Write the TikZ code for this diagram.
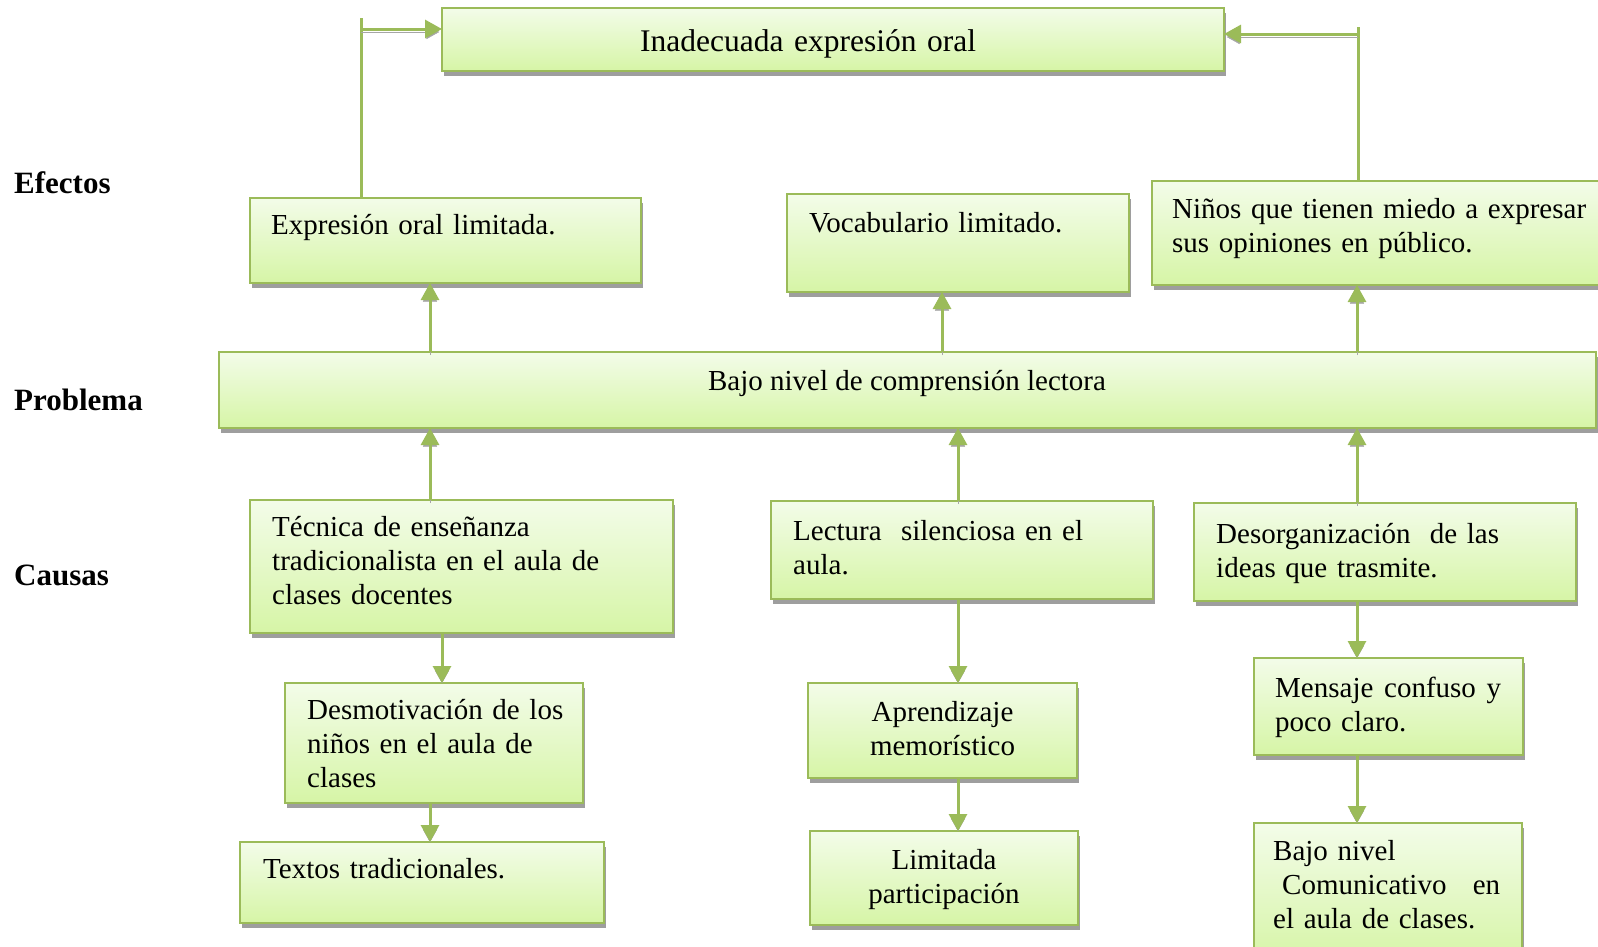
\documentclass[tikz,border=0pt]{standalone}
\usepackage{fontspec}
\setmainfont{Liberation Serif}
\usetikzlibrary{arrows.meta,shadows}
\definecolor{verdeborde}{HTML}{9BBB59}
\definecolor{verdearriba}{HTML}{F3FCE9}
\definecolor{verdeabajo}{HTML}{D6F5A6}
\tikzset{
  caja/.style={draw=verdeborde, line width=2.5pt, top color=verdearriba, bottom color=verdeabajo,
    anchor=north west, outer sep=0pt, inner sep=0pt,
    general shadow={fill=black!38, shadow xshift=2pt, shadow yshift=-5pt}},
  texto/.style={font=\fontsize{29}{34}\selectfont, anchor=base west, inner sep=0pt, align=left, text width=460pt},
  etiqueta/.style={font=\fontsize{31}{36}\selectfont\bfseries, anchor=base west, inner sep=0pt},
  flecha/.style={draw=verdeborde, line width=3pt, -{Triangle[width=18pt,length=17pt]},
    preaction={draw=black!35, transform canvas={yshift=-3pt}}},
  linea/.style={draw=verdeborde, line width=3pt},
}
\begin{document}
\begin{tikzpicture}[x=1pt,y=-1pt]
            \useasboundingbox (0,0) rectangle (1598,946);
            % etiquetas de la izquierda
            \node[etiqueta] (efectos) at (14,193) {Efectos};
            \node[etiqueta] (problema) at (14,410) {Problema};
            \node[etiqueta] (causas) at (14,585) {Causas};
            % cajas
            \node[caja, minimum width=782, minimum height=63] (sup) at (442,8) {};
            \node[texto, font=\fontsize{31.5}{36}\selectfont] (supt) at (640,51) {Inadecuada expresión oral};
            \node[caja, minimum width=391, minimum height=85] (e1) at (250,198) {};
            \node[texto] (e1t) at ([shift={(21,36)}]e1.north west) {Expresión oral limitada.};
            \node[caja, minimum width=342, minimum height=98] (e2) at (787,194) {};
            \node[texto] (e2t) at ([shift={(22,38)}]e2.north west) {Vocabulario limitado.};
            \node[caja, minimum width=470, minimum height=104] (e3) at (1152,181) {};
            \node[texto] (e3t) at ([shift={(20,37)}]e3.north west) {Niños que tienen miedo a expresar\\sus opiniones en público.};
            \node[caja, minimum width=1377, minimum height=76] (pb) at (219,352) {};
            \node[texto, anchor=base, text width=] (pbt) at (907,390) {Bajo nivel de comprensión lectora};
            \node[caja, minimum width=423, minimum height=133] (c1) at (250,500) {};
            \node[texto] (c1t) at ([shift={(22,36)}]c1.north west) {Técnica de enseñanza\\tradicionalista en el aula de\\clases docentes};
            \node[caja, minimum width=382, minimum height=98] (c2) at (771,501) {};
            \node[texto] (c2t) at ([shift={(22,39)}]c2.north west) {Lectura\ \ silenciosa en el\\aula.};
            \node[caja, minimum width=382, minimum height=98] (c3) at (1194,503) {};
            \node[texto] (c3t) at ([shift={(22,40)}]c3.north west) {Desorganización\ \ de las\\ideas que trasmite.};
            \node[caja, minimum width=298, minimum height=120] (s1a) at (285,683) {};
            \node[texto] (s1at) at ([shift={(22,36)}]s1a.north west) {Desmotivación de los\\niños en el aula de\\clases};
            \node[caja, minimum width=364, minimum height=81] (s1b) at (240,842) {};
            \node[texto] (s1bt) at ([shift={(23,36)}]s1b.north west) {Textos tradicionales.};
            \node[caja, minimum width=269, minimum height=95] (s2a) at (808,683) {};
            \node[texto, anchor=base, align=center, text width=260pt] (s2at) at ([shift={(0,38)}]s2a.north) {Aprendizaje\\memorístico};
            \node[caja, minimum width=268, minimum height=94] (s2b) at (810,831) {};
            \node[texto, anchor=base, align=center, text width=260pt] (s2bt) at ([shift={(0,38)}]s2b.north) {Limitada\\participación};
            \node[caja, minimum width=269, minimum height=97] (s3a) at (1254,658) {};
            \node[texto, text width=226pt] (s3at) at ([shift={(21,39)}]s3a.north west) {Mensaje\hfill confuso\hfill y\\poco claro.};
            \node[caja, minimum width=268, minimum height=140] (s3b) at (1254,823) {};
            \node[texto, text width=227pt] (s3bt) at ([shift={(19,37)}]s3b.north west) {Bajo nivel\\\hspace*{9pt}Comunicativo\hfill en\\el aula de clases.};
            % columnas de las flechas
            \coordinate (k1) at (430,0);
            \coordinate (k2) at (942,0);
            \coordinate (k3) at (1357,0);
            \coordinate (k4) at (958,0);
            \coordinate (k5) at (442,0);
            \coordinate (iz) at (361,18);
            \coordinate (izf) at (361,29);
            \coordinate (de) at (1358,27);
            \coordinate (def) at (1358,34);
            % flechas hacia arriba
            \draw[linea] (e1.north -| iz) -- (iz);
            \draw[flecha] (izf) -- (izf -| sup.west);
            \draw[linea] (e3.north -| de) -- (de);
            \draw[flecha] (def) -- (def -| sup.east);
            \foreach \a/\b/\k in {pb/e1/k1, pb/e2/k2, pb/e3/k3, c1/pb/k1, c2/pb/k4, c3/pb/k3}
                \draw[flecha] (\a.north -| \k) -- (\b.south -| \k);
            % flechas hacia abajo
            \foreach \a/\b/\k in {c1/s1a/k5, s1a/s1b/k1, c2/s2a/k4, s2a/s2b/k4, c3/s3a/k3, s3a/s3b/k3}
                \draw[flecha] (\a.south -| \k) -- (\b.north -| \k);
\end{tikzpicture}
\end{document}
